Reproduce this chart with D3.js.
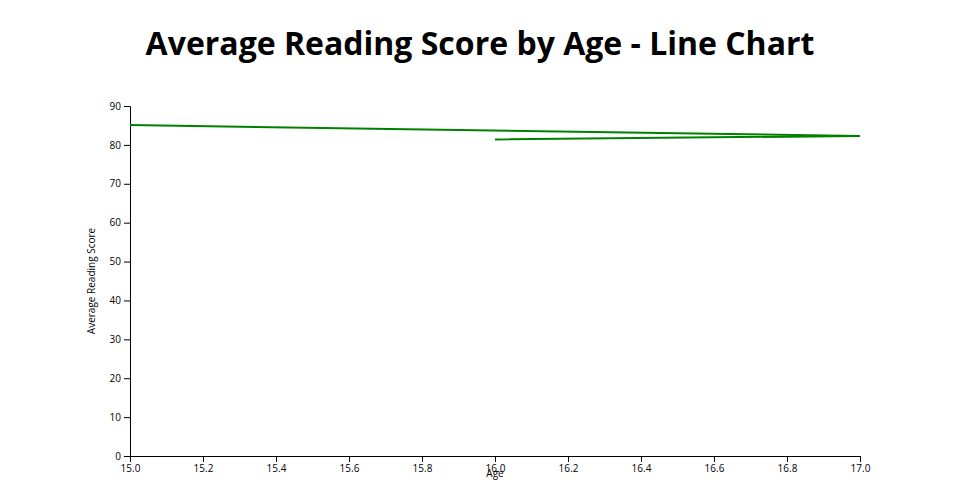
<!DOCTYPE html>
<html>
<head>
<meta charset="utf-8">
<script src="https://cdn.jsdelivr.net/npm/d3@7"></script>
<style>
body { margin: 0; background: #fff; font-family: "Open Sans", sans-serif; }
</style>
</head>
<body>
<svg id="chart" width="960" height="500"></svg>
<script>
const ages = [15, 17, 16];
const scores = [85.1, 82.3, 81.4];
const titleText = "Average Reading Score by Age - Line Chart";
const xLabel = "Age";
const yLabel = "Average Reading Score";

const svg = d3.select("#chart");
const margin = {top: 106, right: 100, bottom: 44, left: 130};
const W = 960, H = 500;
const w = W - margin.left - margin.right, h = H - margin.top - margin.bottom;

const data = ages.map((a, i) => ({age: a, score: scores[i]}));

const x = d3.scaleLinear().domain(d3.extent(ages)).range([0, w]);
const y = d3.scaleLinear().domain([0, d3.max(scores)]).nice().range([h, 0]);

svg.append("text").attr("x", W / 2).attr("y", 55).attr("text-anchor", "middle")
  .style("font-family", "'Open Sans', sans-serif").style("font-weight", "bold").style("font-size", "32px")
  .text(titleText);

const g = svg.append("g").attr("transform", `translate(${margin.left},${margin.top})`);

const xAxis = g.append("g").attr("transform", `translate(0,${h})`).call(d3.axisBottom(x).tickFormat(d3.format(".1f")));
const yAxis = g.append("g").call(d3.axisLeft(y));
[xAxis, yAxis].forEach(a => a.selectAll("text").style("font-family", "'Open Sans', sans-serif").style("font-size", "10px"));

g.append("path").datum(data)
  .attr("fill", "none").attr("stroke", "green").attr("stroke-width", 2)
  .attr("d", d3.line().x(d => x(d.age)).y(d => y(d.score)));

g.append("text").attr("x", w / 2).attr("y", h + 21).attr("text-anchor", "middle")
  .style("font-family", "'Open Sans', sans-serif").style("font-size", "10px").text(xLabel);

g.append("text").attr("transform", "rotate(-90)").attr("x", -h / 2).attr("y", -35).attr("text-anchor", "middle")
  .style("font-family", "'Open Sans', sans-serif").style("font-size", "10px").text(yLabel);
</script>
</body>
</html>
